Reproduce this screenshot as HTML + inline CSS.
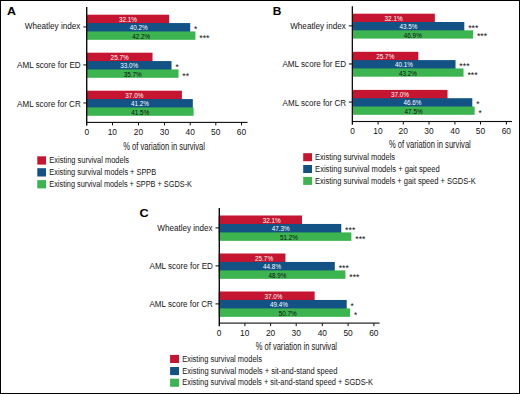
<!DOCTYPE html>
<html><head><meta charset="utf-8"><style>
html,body{margin:0;padding:0;background:#fff;}
body{width:520px;height:394px;overflow:hidden;position:relative;}
svg{position:absolute;left:0;top:0;}
text{font-family:"Liberation Sans", sans-serif;white-space:pre;}
</style></head><body>
<svg width="520" height="394" viewBox="0 0 520 394">
<rect x="0" y="0" width="520" height="394" fill="#fff"/>
<rect x="0.5" y="0.5" width="519" height="393" fill="none" stroke="#000" stroke-width="1"/>
<text x="7.09" y="14.70" font-size="11.5" fill="#000" font-weight="bold" textLength="8.95" lengthAdjust="spacingAndGlyphs">A</text>
<rect x="86.50" y="14.70" width="82.66" height="9.37" fill="#c61530"/>
<rect x="86.50" y="23.07" width="103.72" height="9.37" fill="#125284"/>
<rect x="86.50" y="31.44" width="108.92" height="8.37" fill="#3cb450"/>
<rect x="86.50" y="52.70" width="66.02" height="9.37" fill="#c61530"/>
<rect x="86.50" y="61.07" width="85.00" height="9.37" fill="#125284"/>
<rect x="86.50" y="69.44" width="92.02" height="8.37" fill="#3cb450"/>
<rect x="86.50" y="90.70" width="95.40" height="9.37" fill="#c61530"/>
<rect x="86.50" y="99.07" width="106.32" height="9.37" fill="#125284"/>
<rect x="86.50" y="107.44" width="107.10" height="8.37" fill="#3cb450"/>
<rect x="86.00" y="7.00" width="1.40" height="118.60" fill="#0d0d0d"/>
<rect x="86.90" y="121.85" width="160.60" height="1.10" fill="#0d0d0d"/>
<text x="84.55" y="135.10" font-size="8.4" fill="#141414">0</text>
<rect x="112.00" y="122.40" width="1.00" height="3.00" fill="#0d0d0d"/>
<text x="107.67" y="135.10" font-size="8.4" fill="#141414">10</text>
<rect x="138.00" y="122.40" width="1.00" height="3.00" fill="#0d0d0d"/>
<text x="133.78" y="135.10" font-size="8.4" fill="#141414">20</text>
<rect x="164.00" y="122.40" width="1.00" height="3.00" fill="#0d0d0d"/>
<text x="159.82" y="135.10" font-size="8.4" fill="#141414">30</text>
<rect x="189.70" y="122.40" width="1.00" height="3.00" fill="#0d0d0d"/>
<text x="185.60" y="135.10" font-size="8.4" fill="#141414">40</text>
<rect x="215.30" y="122.40" width="1.00" height="3.00" fill="#0d0d0d"/>
<text x="211.12" y="135.10" font-size="8.4" fill="#141414">50</text>
<rect x="241.00" y="122.40" width="1.00" height="3.00" fill="#0d0d0d"/>
<text x="236.78" y="135.10" font-size="8.4" fill="#141414">60</text>
<rect x="83.30" y="26.45" width="3.60" height="1.00" fill="#0d0d0d"/>
<text x="24.76" y="29.10" font-size="8.5" fill="#141414" textLength="55.64" lengthAdjust="spacingAndGlyphs">Wheatley index</text>
<text x="118.97" y="21.98" font-size="6.8" fill="#fff" textLength="18.08" lengthAdjust="spacingAndGlyphs">32.1%</text>
<text x="129.63" y="30.36" font-size="6.8" fill="#fff" textLength="17.95" lengthAdjust="spacingAndGlyphs">40.2%</text>
<text x="194.10" y="32.27" font-size="8.6" fill="#111" textLength="3.24" lengthAdjust="spacingAndGlyphs">*</text>
<text x="132.23" y="38.73" font-size="6.8" fill="#111" textLength="17.95" lengthAdjust="spacingAndGlyphs">42.2%</text>
<text x="199.29" y="40.64" font-size="8.6" fill="#111" textLength="10.24" lengthAdjust="spacingAndGlyphs">***</text>
<rect x="83.30" y="64.45" width="3.60" height="1.00" fill="#0d0d0d"/>
<text x="17.00" y="67.70" font-size="8.5" fill="#141414" textLength="63.70" lengthAdjust="spacingAndGlyphs">AML score for ED</text>
<text x="110.59" y="59.99" font-size="6.8" fill="#fff" textLength="18.15" lengthAdjust="spacingAndGlyphs">25.7%</text>
<text x="120.14" y="68.35" font-size="6.8" fill="#fff" textLength="18.08" lengthAdjust="spacingAndGlyphs">33.0%</text>
<text x="175.38" y="70.27" font-size="8.6" fill="#111" textLength="3.24" lengthAdjust="spacingAndGlyphs">*</text>
<text x="123.65" y="76.72" font-size="6.8" fill="#111" textLength="18.08" lengthAdjust="spacingAndGlyphs">35.7%</text>
<text x="182.39" y="78.64" font-size="8.6" fill="#111" textLength="6.75" lengthAdjust="spacingAndGlyphs">**</text>
<rect x="83.30" y="102.45" width="3.60" height="1.00" fill="#0d0d0d"/>
<text x="17.10" y="106.70" font-size="8.5" fill="#141414" textLength="63.60" lengthAdjust="spacingAndGlyphs">AML score for CR</text>
<text x="125.34" y="97.98" font-size="6.8" fill="#fff" textLength="18.08" lengthAdjust="spacingAndGlyphs">37.0%</text>
<text x="130.93" y="106.36" font-size="6.8" fill="#fff" textLength="17.95" lengthAdjust="spacingAndGlyphs">41.2%</text>
<text x="131.32" y="114.72" font-size="6.8" fill="#111" textLength="17.95" lengthAdjust="spacingAndGlyphs">41.5%</text>
<text x="123.23" y="149.50" font-size="10" fill="#141414" textLength="81.78" lengthAdjust="spacingAndGlyphs">% of variation in survival</text>
<rect x="37.30" y="156.30" width="8.70" height="8.30" fill="#c61530"/>
<text x="49.30" y="162.60" font-size="8.4" fill="#141414" textLength="79.76" lengthAdjust="spacingAndGlyphs">Existing survival models</text>
<rect x="37.30" y="168.20" width="8.70" height="8.30" fill="#125284"/>
<text x="49.31" y="174.70" font-size="8.4" fill="#141414" textLength="106.89" lengthAdjust="spacingAndGlyphs">Existing survival models + SPPB</text>
<rect x="37.30" y="180.10" width="8.70" height="8.30" fill="#3cb450"/>
<text x="49.31" y="186.60" font-size="8.4" fill="#141414" textLength="142.68" lengthAdjust="spacingAndGlyphs">Existing survival models + SPPB + SGDS-K</text>
<text x="272.72" y="15.00" font-size="11.5" fill="#000" font-weight="bold" textLength="8.64" lengthAdjust="spacingAndGlyphs">B</text>
<rect x="352.00" y="13.70" width="82.85" height="9.30" fill="#c61530"/>
<rect x="352.00" y="22.00" width="112.30" height="9.30" fill="#125284"/>
<rect x="352.00" y="30.30" width="121.09" height="8.30" fill="#3cb450"/>
<rect x="352.00" y="51.80" width="66.31" height="9.30" fill="#c61530"/>
<rect x="352.00" y="60.10" width="103.52" height="9.30" fill="#125284"/>
<rect x="352.00" y="68.40" width="111.53" height="8.30" fill="#3cb450"/>
<rect x="352.00" y="89.90" width="95.51" height="9.30" fill="#c61530"/>
<rect x="352.00" y="98.20" width="120.31" height="9.30" fill="#125284"/>
<rect x="352.00" y="106.50" width="122.64" height="8.30" fill="#3cb450"/>
<rect x="351.70" y="6.30" width="1.30" height="118.40" fill="#0d0d0d"/>
<rect x="352.40" y="120.95" width="159.60" height="1.10" fill="#0d0d0d"/>
<text x="350.15" y="134.20" font-size="8.4" fill="#141414">0</text>
<rect x="377.60" y="121.50" width="1.00" height="3.00" fill="#0d0d0d"/>
<text x="373.27" y="134.20" font-size="8.4" fill="#141414">10</text>
<rect x="402.80" y="121.50" width="1.00" height="3.00" fill="#0d0d0d"/>
<text x="398.57" y="134.20" font-size="8.4" fill="#141414">20</text>
<rect x="428.50" y="121.50" width="1.00" height="3.00" fill="#0d0d0d"/>
<text x="424.32" y="134.20" font-size="8.4" fill="#141414">30</text>
<rect x="454.40" y="121.50" width="1.00" height="3.00" fill="#0d0d0d"/>
<text x="450.30" y="134.20" font-size="8.4" fill="#141414">40</text>
<rect x="480.00" y="121.50" width="1.00" height="3.00" fill="#0d0d0d"/>
<text x="475.82" y="134.20" font-size="8.4" fill="#141414">50</text>
<rect x="505.90" y="121.50" width="1.00" height="3.00" fill="#0d0d0d"/>
<text x="501.67" y="134.20" font-size="8.4" fill="#141414">60</text>
<rect x="348.80" y="25.35" width="3.60" height="1.00" fill="#0d0d0d"/>
<text x="290.16" y="28.50" font-size="8.5" fill="#141414" textLength="55.64" lengthAdjust="spacingAndGlyphs">Wheatley index</text>
<text x="384.57" y="20.95" font-size="6.8" fill="#fff" textLength="18.08" lengthAdjust="spacingAndGlyphs">32.1%</text>
<text x="399.43" y="29.25" font-size="6.8" fill="#fff" textLength="17.95" lengthAdjust="spacingAndGlyphs">43.5%</text>
<text x="468.17" y="31.16" font-size="8.6" fill="#111" textLength="10.24" lengthAdjust="spacingAndGlyphs">***</text>
<text x="403.82" y="37.55" font-size="6.8" fill="#111" textLength="17.95" lengthAdjust="spacingAndGlyphs">46.9%</text>
<text x="476.96" y="39.46" font-size="8.6" fill="#111" textLength="10.24" lengthAdjust="spacingAndGlyphs">***</text>
<rect x="348.80" y="63.45" width="3.60" height="1.00" fill="#0d0d0d"/>
<text x="282.40" y="66.90" font-size="8.5" fill="#141414" textLength="63.70" lengthAdjust="spacingAndGlyphs">AML score for ED</text>
<text x="376.23" y="59.05" font-size="6.8" fill="#fff" textLength="18.15" lengthAdjust="spacingAndGlyphs">25.7%</text>
<text x="395.03" y="67.35" font-size="6.8" fill="#fff" textLength="17.95" lengthAdjust="spacingAndGlyphs">40.1%</text>
<text x="459.39" y="69.26" font-size="8.6" fill="#111" textLength="10.24" lengthAdjust="spacingAndGlyphs">***</text>
<text x="399.04" y="75.65" font-size="6.8" fill="#111" textLength="17.95" lengthAdjust="spacingAndGlyphs">43.2%</text>
<text x="467.40" y="77.56" font-size="8.6" fill="#111" textLength="10.24" lengthAdjust="spacingAndGlyphs">***</text>
<rect x="348.80" y="101.55" width="3.60" height="1.00" fill="#0d0d0d"/>
<text x="282.60" y="105.70" font-size="8.5" fill="#141414" textLength="63.50" lengthAdjust="spacingAndGlyphs">AML score for CR</text>
<text x="390.90" y="97.15" font-size="6.8" fill="#fff" textLength="18.08" lengthAdjust="spacingAndGlyphs">37.0%</text>
<text x="403.43" y="105.45" font-size="6.8" fill="#fff" textLength="17.95" lengthAdjust="spacingAndGlyphs">46.6%</text>
<text x="476.19" y="107.36" font-size="8.6" fill="#111" textLength="3.24" lengthAdjust="spacingAndGlyphs">*</text>
<text x="404.59" y="113.75" font-size="6.8" fill="#111" textLength="17.95" lengthAdjust="spacingAndGlyphs">47.5%</text>
<text x="478.51" y="115.66" font-size="8.6" fill="#111" textLength="3.24" lengthAdjust="spacingAndGlyphs">*</text>
<text x="389.03" y="147.60" font-size="10" fill="#141414" textLength="81.78" lengthAdjust="spacingAndGlyphs">% of variation in survival</text>
<rect x="303.20" y="153.20" width="8.80" height="8.00" fill="#c61530"/>
<text x="315.10" y="159.80" font-size="8.4" fill="#141414" textLength="79.97" lengthAdjust="spacingAndGlyphs">Existing survival models</text>
<rect x="303.20" y="165.00" width="8.80" height="8.00" fill="#125284"/>
<text x="315.09" y="171.60" font-size="8.4" fill="#141414" textLength="124.60" lengthAdjust="spacingAndGlyphs">Existing survival models + gait speed</text>
<rect x="303.20" y="176.90" width="8.80" height="8.00" fill="#3cb450"/>
<text x="315.10" y="183.50" font-size="8.4" fill="#141414" textLength="160.60" lengthAdjust="spacingAndGlyphs">Existing survival models + gait speed + SGDS-K</text>
<text x="139.49" y="216.70" font-size="11.5" fill="#000" font-weight="bold" textLength="9.15" lengthAdjust="spacingAndGlyphs">C</text>
<rect x="218.70" y="215.50" width="83.28" height="9.45" fill="#c61530"/>
<rect x="218.70" y="223.95" width="122.57" height="9.45" fill="#125284"/>
<rect x="218.70" y="232.40" width="132.65" height="8.45" fill="#3cb450"/>
<rect x="218.70" y="253.50" width="66.73" height="9.45" fill="#c61530"/>
<rect x="218.70" y="261.95" width="116.11" height="9.45" fill="#125284"/>
<rect x="218.70" y="270.40" width="126.71" height="8.45" fill="#3cb450"/>
<rect x="218.70" y="291.50" width="95.94" height="9.45" fill="#c61530"/>
<rect x="218.70" y="299.95" width="128.00" height="9.45" fill="#125284"/>
<rect x="218.70" y="308.40" width="131.36" height="8.45" fill="#3cb450"/>
<rect x="218.60" y="208.00" width="1.40" height="118.30" fill="#0d0d0d"/>
<rect x="219.10" y="322.55" width="160.50" height="1.10" fill="#0d0d0d"/>
<text x="216.75" y="335.80" font-size="8.4" fill="#141414">0</text>
<rect x="244.40" y="323.10" width="1.00" height="3.00" fill="#0d0d0d"/>
<text x="240.07" y="335.80" font-size="8.4" fill="#141414">10</text>
<rect x="270.10" y="323.10" width="1.00" height="3.00" fill="#0d0d0d"/>
<text x="265.88" y="335.80" font-size="8.4" fill="#141414">20</text>
<rect x="295.70" y="323.10" width="1.00" height="3.00" fill="#0d0d0d"/>
<text x="291.52" y="335.80" font-size="8.4" fill="#141414">30</text>
<rect x="321.80" y="323.10" width="1.00" height="3.00" fill="#0d0d0d"/>
<text x="317.70" y="335.80" font-size="8.4" fill="#141414">40</text>
<rect x="347.60" y="323.10" width="1.00" height="3.00" fill="#0d0d0d"/>
<text x="343.42" y="335.80" font-size="8.4" fill="#141414">50</text>
<rect x="373.40" y="323.10" width="1.00" height="3.00" fill="#0d0d0d"/>
<text x="369.17" y="335.80" font-size="8.4" fill="#141414">60</text>
<rect x="215.50" y="227.38" width="3.60" height="1.00" fill="#0d0d0d"/>
<text x="157.26" y="230.60" font-size="8.5" fill="#141414" textLength="55.34" lengthAdjust="spacingAndGlyphs">Wheatley index</text>
<text x="262.64" y="222.82" font-size="6.8" fill="#fff" textLength="18.08" lengthAdjust="spacingAndGlyphs">32.1%</text>
<text x="271.67" y="231.27" font-size="6.8" fill="#fff" textLength="17.95" lengthAdjust="spacingAndGlyphs">47.3%</text>
<text x="345.14" y="233.19" font-size="8.6" fill="#111" textLength="10.24" lengthAdjust="spacingAndGlyphs">***</text>
<text x="279.94" y="239.72" font-size="6.8" fill="#111" textLength="18.08" lengthAdjust="spacingAndGlyphs">51.2%</text>
<text x="355.22" y="241.64" font-size="8.6" fill="#111" textLength="10.24" lengthAdjust="spacingAndGlyphs">***</text>
<rect x="215.50" y="265.38" width="3.60" height="1.00" fill="#0d0d0d"/>
<text x="149.50" y="268.90" font-size="8.5" fill="#141414" textLength="63.40" lengthAdjust="spacingAndGlyphs">AML score for ED</text>
<text x="254.98" y="260.83" font-size="6.8" fill="#fff" textLength="18.15" lengthAdjust="spacingAndGlyphs">25.7%</text>
<text x="263.07" y="269.28" font-size="6.8" fill="#fff" textLength="17.95" lengthAdjust="spacingAndGlyphs">44.8%</text>
<text x="338.68" y="271.19" font-size="8.6" fill="#111" textLength="10.24" lengthAdjust="spacingAndGlyphs">***</text>
<text x="268.47" y="277.73" font-size="6.8" fill="#111" textLength="17.95" lengthAdjust="spacingAndGlyphs">48.9%</text>
<text x="349.27" y="279.64" font-size="8.6" fill="#111" textLength="10.24" lengthAdjust="spacingAndGlyphs">***</text>
<rect x="215.50" y="303.38" width="3.60" height="1.00" fill="#0d0d0d"/>
<text x="149.50" y="307.30" font-size="8.5" fill="#141414" textLength="63.40" lengthAdjust="spacingAndGlyphs">AML score for CR</text>
<text x="264.44" y="298.83" font-size="6.8" fill="#fff" textLength="18.08" lengthAdjust="spacingAndGlyphs">37.0%</text>
<text x="269.97" y="307.28" font-size="6.8" fill="#fff" textLength="17.95" lengthAdjust="spacingAndGlyphs">49.4%</text>
<text x="350.57" y="309.19" font-size="8.6" fill="#111" textLength="3.24" lengthAdjust="spacingAndGlyphs">*</text>
<text x="278.64" y="315.73" font-size="6.8" fill="#111" textLength="18.08" lengthAdjust="spacingAndGlyphs">50.7%</text>
<text x="353.93" y="317.64" font-size="8.6" fill="#111" textLength="3.24" lengthAdjust="spacingAndGlyphs">*</text>
<text x="255.74" y="349.50" font-size="10" fill="#141414" textLength="81.27" lengthAdjust="spacingAndGlyphs">% of variation in survival</text>
<rect x="170.10" y="354.90" width="8.90" height="8.10" fill="#c61530"/>
<text x="182.20" y="361.70" font-size="8.4" fill="#141414" textLength="79.76" lengthAdjust="spacingAndGlyphs">Existing survival models</text>
<rect x="170.10" y="367.00" width="8.90" height="8.10" fill="#125284"/>
<text x="182.20" y="373.60" font-size="8.4" fill="#141414" textLength="155.18" lengthAdjust="spacingAndGlyphs">Existing survival models + sit-and-stand speed</text>
<rect x="170.10" y="378.70" width="8.90" height="8.10" fill="#3cb450"/>
<text x="182.20" y="385.30" font-size="8.4" fill="#141414" textLength="190.89" lengthAdjust="spacingAndGlyphs">Existing survival models + sit-and-stand speed + SGDS-K</text>
</svg>
</body></html>
